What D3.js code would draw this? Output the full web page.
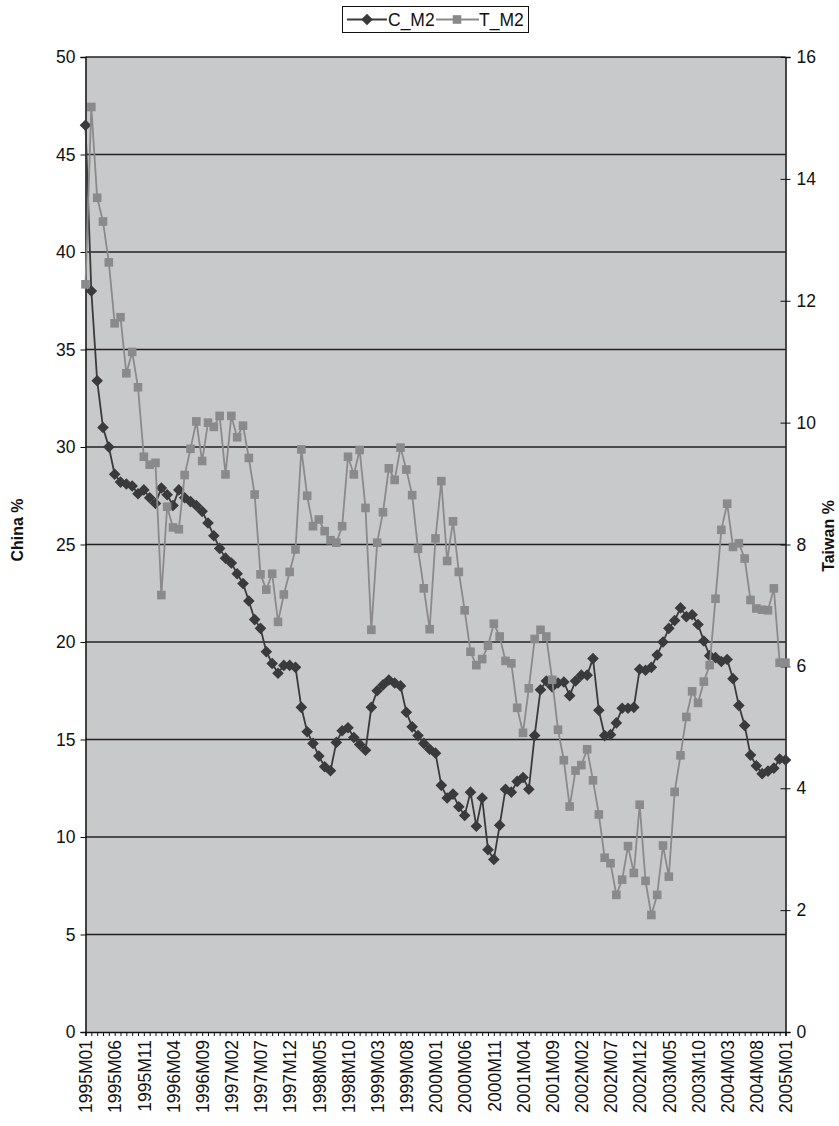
<!DOCTYPE html>
<html><head><meta charset="utf-8">
<script src="https://cdn.jsdelivr.net/npm/d3@7"></script>
<style>
body{margin:0;background:#fff;}
svg text{font-family:"Liberation Sans",Arial,sans-serif;fill:#111;}
</style></head>
<body>
<svg id="chart" width="839" height="1126"></svg>
<script>
// ---- data ----
const years = d3.range(1995, 2006);
const categories = [];
years.forEach(y => d3.range(1, 13).forEach(m => { if (y < 2005 || m === 1) categories.push(y + "M" + String(m).padStart(2, "0")); }));
const tickLabels = ["1995M01","1995M06","1995M11","1996M04","1996M09","1997M02","1997M07","1997M12","1998M05","1998M10","1999M03","1999M08","2000M01","2000M06","2000M11","2001M04","2001M09","2002M02","2002M07","2002M12","2003M05","2003M10","2004M03","2004M08","2005M01"];
const leftTicks = [0,5,10,15,20,25,30,35,40,45,50];
const rightTicks = [0,2,4,6,8,10,12,14,16];
const seriesNames = ["C_M2","T_M2"];
// China M2 growth (%), left axis
const C_M2 = [46.5,38.0,33.4,31.0,30.0,28.6,28.2,28.1,28.0,27.6,27.8,27.4,27.1,27.9,27.55,27.0,27.8,27.4,27.2,27.0,
26.7,26.1,25.45,24.8,24.3,24.05,23.5,23.0,22.1,21.15,20.7,19.5,18.9,18.4,18.8,18.8,18.7,16.65,15.4,14.8,
14.15,13.6,13.4,14.85,15.45,15.6,15.1,14.75,14.45,16.65,17.5,17.8,18.05,17.9,17.75,16.4,15.65,15.2,14.8,14.5,
14.3,12.65,12.0,12.2,11.55,11.1,12.3,10.55,12.0,9.35,8.85,10.6,12.45,12.3,12.85,13.05,12.45,15.2,17.55,18.0,
17.7,17.9,17.95,17.25,18.0,18.3,18.3,19.15,16.5,15.2,15.25,15.85,16.6,16.6,16.65,18.6,18.55,18.7,19.33,20.0,
20.7,21.1,21.75,21.3,21.4,20.9,20.05,19.3,19.2,19.0,19.1,18.12,16.75,15.72,14.2,13.65,13.25,13.38,13.53,14.0,
13.95];
// Taiwan M2 growth (%), right axis
const T_M2 = [12.27,15.18,13.69,13.30,12.63,11.63,11.73,10.81,11.16,10.58,9.44,9.31,9.34,7.17,8.62,8.28,8.25,9.14,9.57,10.02,
9.37,10.00,9.93,10.11,9.15,10.11,9.76,9.95,9.42,8.82,7.51,7.26,7.52,6.73,7.18,7.55,7.92,9.56,8.80,8.30,
8.41,8.22,8.07,8.03,8.30,9.44,9.15,9.55,8.60,6.60,8.03,8.53,9.25,9.06,9.59,9.23,8.81,7.93,7.28,6.61,
8.10,9.04,7.73,8.38,7.55,6.92,6.24,6.02,6.12,6.34,6.70,6.49,6.09,6.05,5.32,4.91,5.64,6.45,6.60,6.49,
5.78,4.96,4.46,3.70,4.29,4.38,4.64,4.13,3.57,2.86,2.77,2.25,2.50,3.05,2.61,3.73,2.48,1.92,2.25,3.06,
2.55,3.94,4.54,5.17,5.59,5.40,5.75,6.02,7.11,8.24,8.67,7.96,8.02,7.77,7.09,6.95,6.93,6.92,7.28,6.06,
6.06];

// ---- layout ----
const svg = d3.select("#chart");
const L = 85.5, R = 785.5, T = 57, B = 1032;
const x = d3.scalePoint().domain(categories).range([L, R]);
const yL = d3.scaleLinear().domain([0, 50]).range([B, T]);
const yR = d3.scaleLinear().domain([0, 16]).range([B, T]);

const cDark = "#3a3a3c", tGray = "#8a8a8c";
const dia = "M0,-5.8L5.8,0L0,5.8L-5.8,0Z", sq = 8.6;

svg.append("rect").attr("x", L).attr("y", T).attr("width", R - L).attr("height", B - T).attr("fill", "#c8c9cb");

// gridlines
svg.append("g").selectAll("line").data(leftTicks.filter(d => d > 0)).join("line")
  .attr("x1", L).attr("x2", R).attr("y1", d => yL(d)).attr("y2", d => yL(d))
  .attr("stroke", "#222").attr("stroke-width", 1.4);

// left axis
const gl = svg.append("g").attr("transform", `translate(${L},0)`)
  .call(d3.axisLeft(yL).tickValues(leftTicks).tickSize(5).tickPadding(5));
gl.select(".domain").attr("stroke", "#111").attr("stroke-width", 1.5);
gl.selectAll("text").attr("font-size", 17.5).attr("fill", "#111");
gl.selectAll(".tick line").attr("stroke", "#111");

// right axis
const gr = svg.append("g").attr("transform", `translate(${R},0)`)
  .call(d3.axisRight(yR).tickValues(rightTicks).tickSize(5).tickPadding(6));
gr.select(".domain").attr("stroke", "#111").attr("stroke-width", 1.5);
gr.selectAll(".tick line").attr("x1", -5).attr("stroke", "#111");
gr.selectAll("text").attr("font-size", 17.5).attr("fill", "#111");

// bottom axis
const gb = svg.append("g").attr("transform", `translate(0,${B})`)
  .call(d3.axisBottom(x).tickSize(4).tickFormat(d => tickLabels.includes(d) ? d : ""));
gb.select(".domain").attr("stroke", "#111").attr("stroke-width", 1.5);
gb.selectAll(".tick line").attr("stroke", "#111");
gb.selectAll("text").attr("font-size", 17.5).attr("fill", "#111")
  .attr("transform", "rotate(-90)").attr("text-anchor", "end")
  .attr("x", -8).attr("y", 0).attr("dy", "0.36em");

// axis titles
svg.append("text").attr("transform", "translate(23,530) rotate(-90)").attr("text-anchor", "middle")
  .attr("font-size", 16).attr("font-weight", "bold").text("China %");
svg.append("text").attr("transform", "translate(834,536) rotate(-90)").attr("text-anchor", "middle")
  .attr("font-size", 16).attr("font-weight", "bold").text("Taiwan %");

// series
const lineC = d3.line().x((d, i) => x(categories[i])).y(d => yL(d));
const lineT = d3.line().x((d, i) => x(categories[i])).y(d => yR(d));
svg.append("path").datum(C_M2).attr("d", lineC).attr("fill", "none").attr("stroke", cDark).attr("stroke-width", 1.8);
svg.append("g").selectAll("path").data(C_M2).join("path")
  .attr("transform", (d, i) => `translate(${x(categories[i])},${yL(d)})`)
  .attr("d", dia).attr("fill", cDark);

svg.append("path").datum(T_M2).attr("d", lineT).attr("fill", "none").attr("stroke", tGray).attr("stroke-width", 1.8);
svg.append("g").selectAll("rect").data(T_M2).join("rect")
  .attr("x", (d, i) => x(categories[i]) - sq / 2).attr("y", d => yR(d) - sq / 2)
  .attr("width", sq).attr("height", sq).attr("fill", tGray);

// legend
const lg = svg.append("g");
lg.append("rect").attr("x", 342.5).attr("y", 6.5).attr("width", 186).attr("height", 26)
  .attr("fill", "#fff").attr("stroke", "#111").attr("stroke-width", 1);
lg.append("line").attr("x1", 347).attr("x2", 387).attr("y1", 19.5).attr("y2", 19.5).attr("stroke", cDark).attr("stroke-width", 1.8);
lg.append("path").attr("transform", "translate(367,19.5)").attr("d", dia).attr("fill", cDark);
lg.append("text").attr("x", 388).attr("y", 26).attr("font-size", 17.5).text(seriesNames[0]);
lg.append("line").attr("x1", 436).attr("x2", 479).attr("y1", 19.5).attr("y2", 19.5).attr("stroke", tGray).attr("stroke-width", 1.8);
lg.append("rect").attr("x", 457 - sq / 2).attr("y", 19.5 - sq / 2).attr("width", sq).attr("height", sq).attr("fill", tGray);
lg.append("text").attr("x", 479).attr("y", 26).attr("font-size", 17.5).text(seriesNames[1]);
</script>
</body></html>
